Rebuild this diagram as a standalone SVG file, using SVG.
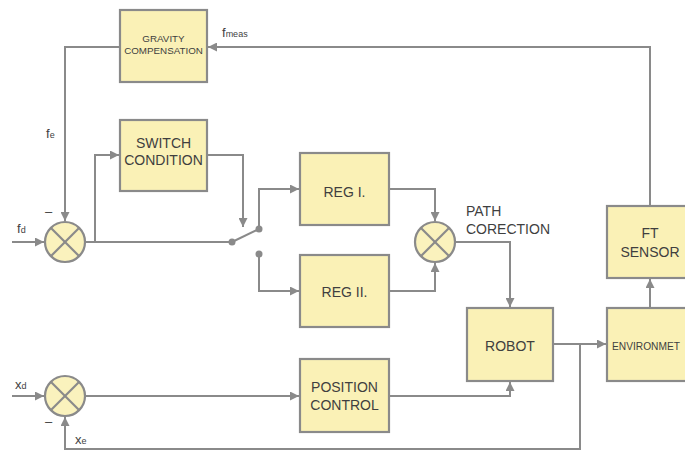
<svg xmlns="http://www.w3.org/2000/svg" width="685" height="450" viewBox="0 0 685 450">
<defs>
<marker id="arr" markerWidth="9" markerHeight="9" refX="9" refY="4.5" orient="auto" markerUnits="userSpaceOnUse">
<path d="M0,0 L9,4.5 L0,9 z" fill="#8a8a8a"/>
</marker>
</defs>
<style>
.box{fill:#faf1b6;stroke:#8a8a8a;stroke-width:2.2}
.sum{fill:#faf2bd;stroke:#8a8a8a;stroke-width:2.2}
.x{stroke:#8a8a8a;stroke-width:2.2}
.ln{fill:none;stroke:#8a8a8a;stroke-width:2}
.a{marker-end:url(#arr)}
.t{font-family:"Liberation Sans",Arial,sans-serif;font-size:14px;fill:#3f3f3f;text-anchor:middle}
.ts{font-family:"Liberation Sans",Arial,sans-serif;font-size:9.8px;fill:#3f3f3f;text-anchor:middle}
.lb{font-family:"Liberation Sans",Arial,sans-serif;font-size:13px;fill:#3f3f3f}
.sub{font-size:9px}
.dot{fill:#8a8a8a}
</style>
<rect width="685" height="450" fill="#ffffff"/>
<g id="connectors">
<path class="ln a" d="M650,206 V47 H208"/>
<path class="ln a" d="M120,47 H65 V221"/>
<path class="ln a" d="M12,242 H44"/>
<path class="ln" d="M85,242 H232"/>
<path class="ln a" d="M95,242 V155 H119"/>
<path class="ln a" d="M207,155 H243 V227"/>
<path class="ln" d="M232,242 L259,229"/>
<path class="ln a" d="M259,229 V189 H299"/>
<path class="ln a" d="M259,254 V291 H299"/>
<path class="ln a" d="M389,189 H435 V221"/>
<path class="ln a" d="M389,291 H435 V263"/>
<path class="ln a" d="M456,242 H510 V307"/>
<path class="ln a" d="M553,344 H606"/>
<path class="ln a" d="M580,344 V449 H65 V417"/>
<path class="ln a" d="M12,396 H44"/>
<path class="ln a" d="M86,396 H299"/>
<path class="ln a" d="M389,396 H510 V382"/>
<path class="ln a" d="M650,308 V279"/>
<circle class="dot" cx="232" cy="242" r="3.5"/>
<circle class="dot" cx="259" cy="229" r="3.5"/>
<circle class="dot" cx="259" cy="254" r="3.5"/>
</g>
<g id="gravity">
<rect class="box" x="120" y="10" width="87" height="72"/>
<text class="ts" x="163.5" y="42">GRAVITY</text>
<text class="ts" x="163.5" y="54">COMPENSATION</text>
</g>
<g id="switch">
<rect class="box" x="120" y="120" width="87" height="71"/>
<text class="t" x="163.5" y="148">SWITCH</text>
<text class="t" x="163.5" y="165">CONDITION</text>
</g>
<g id="reg1">
<rect class="box" x="300" y="153" width="89" height="72"/>
<text class="t" x="344.5" y="197">REG I.</text>
</g>
<g id="reg2">
<rect class="box" x="300" y="255" width="89" height="72"/>
<text class="t" x="344.5" y="297">REG II.</text>
</g>
<g id="robot">
<rect class="box" x="467" y="308" width="86" height="73"/>
<text class="t" x="510" y="351">ROBOT</text>
</g>
<g id="position">
<rect class="box" x="300" y="359" width="89" height="73"/>
<text class="t" x="344.5" y="392">POSITION</text>
<text class="t" x="344.5" y="410">CONTROL</text>
</g>
<g id="ftsensor">
<rect class="box" x="607" y="206" width="87" height="72"/>
<text class="t" x="650" y="238">FT</text>
<text class="t" x="650" y="257">SENSOR</text>
</g>
<g id="environment">
<rect class="box" x="607" y="308" width="87" height="73"/>
<text class="lb" x="612" y="350" style="font-size:11px" textLength="68" lengthAdjust="spacingAndGlyphs">ENVIRONMET</text>
</g>
<g id="sum1">
<circle class="sum" cx="65" cy="242" r="20"/>
<line class="x" x1="51" y1="228" x2="79" y2="256"/>
<line class="x" x1="79" y1="228" x2="51" y2="256"/>
</g>
<g id="sum2">
<circle class="sum" cx="435" cy="242" r="20"/>
<line class="x" x1="421" y1="228" x2="449" y2="256"/>
<line class="x" x1="449" y1="228" x2="421" y2="256"/>
</g>
<g id="sum3">
<circle class="sum" cx="65" cy="396" r="20"/>
<line class="x" x1="51" y1="382" x2="79" y2="410"/>
<line class="x" x1="79" y1="382" x2="51" y2="410"/>
</g>
<g id="labels">
<text class="lb" x="222" y="37">f<tspan class="sub">meas</tspan></text>
<text class="lb" x="46" y="138">f<tspan class="sub">e</tspan></text>
<text class="lb" x="17" y="233">f<tspan class="sub">d</tspan></text>
<text class="lb" x="45" y="216">–</text>
<text class="lb" x="15" y="389">x<tspan class="sub">d</tspan></text>
<text class="lb" x="45" y="426">–</text>
<text class="lb" x="75" y="444">x<tspan class="sub">e</tspan></text>
<text class="lb" x="466" y="216" style="font-size:14px">PATH</text>
<text class="lb" x="466" y="234" style="font-size:14px">CORECTION</text>
</g>
</svg>
